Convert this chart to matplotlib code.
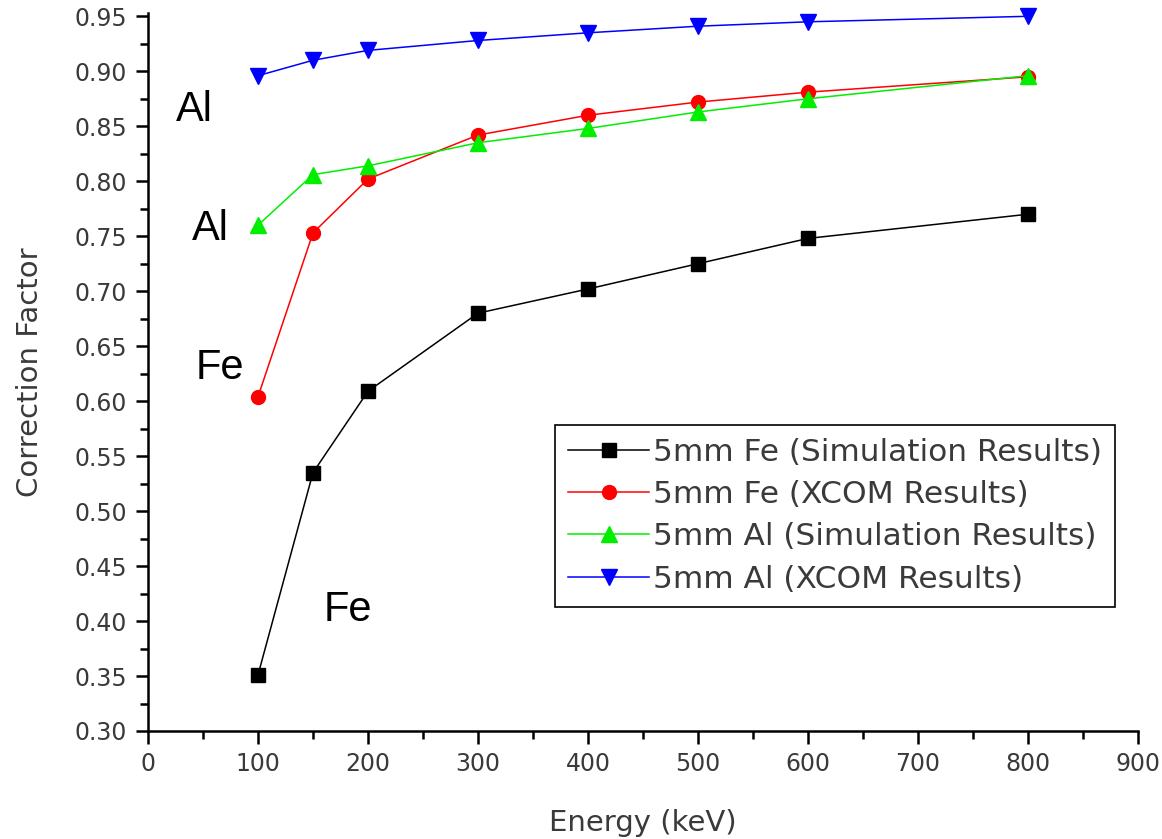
import numpy as np
import matplotlib.pyplot as plt

plt.rcParams['font.family'] = ['DejaVu Sans']

energy = [100, 150, 200, 300, 400, 500, 600, 800]
fe_sim = [0.351, 0.535, 0.609, 0.680, 0.702, 0.725, 0.748, 0.770]
fe_xcom = [0.604, 0.753, 0.802, 0.842, 0.860, 0.872, 0.881, 0.895]
al_sim = [0.760, 0.806, 0.814, 0.835, 0.848, 0.863, 0.875, 0.896]
al_xcom = [0.896, 0.910, 0.919, 0.928, 0.935, 0.941, 0.945, 0.950]

labels = ['5mm Fe (Simulation Results)', '5mm Fe (XCOM Results)',
          '5mm Al (Simulation Results)', '5mm Al (XCOM Results)']

fig = plt.figure(figsize=(11.62, 8.39), dpi=100)
ax = fig.add_axes([148/1162, 1-731/839, 990/1162, 718/839])

ax.plot(energy, fe_sim, color='black', marker='s', ms=10, lw=1.1, label=labels[0], clip_on=False)
ax.plot(energy, fe_xcom, color='red', marker='o', ms=10, lw=1.1, label=labels[1], clip_on=False)
ax.plot(energy, al_sim, color='#00ee00', marker='^', ms=12, lw=1.1, label=labels[2], clip_on=False)
ax.plot(energy, al_xcom, color='blue', marker='v', ms=12, lw=1.1, label=labels[3], clip_on=False)

ax.set_xlim(0, 900)
ax.set_ylim(0.30, 0.953)
ax.set_xticks(np.arange(0, 901, 100))
ax.set_xticks(np.arange(0, 901, 50), minor=True)
ax.set_yticks(np.arange(0.30, 0.951, 0.05))
ax.set_yticks(np.arange(0.30, 0.951, 0.025), minor=True)
ax.yaxis.set_major_formatter(plt.FormatStrFormatter('%.2f'))

for s in ['top', 'right']:
    ax.spines[s].set_visible(False)
for s in ['left', 'bottom']:
    ax.spines[s].set_linewidth(1.8)

ax.tick_params(which='major', length=9, width=1.8, labelsize=17, labelcolor='#3a3a3a', pad=6)
ax.tick_params(which='minor', length=6, width=1.8)

ax.set_xlabel('Energy (keV)', fontsize=21, color='#3a3a3a', labelpad=24)
ax.set_ylabel('Correction Factor', fontsize=21, color='#3a3a3a', labelpad=22)

big = dict(fontsize=30, va='center', family='Liberation Sans')
ax.text(25, 0.865, 'Al', **big)
ax.text(40, 0.757, 'Al', **big)
ax.text(43, 0.630, 'Fe', **big)
ax.text(160, 0.410, 'Fe', **big)

leg = ax.legend(loc='upper left', bbox_to_anchor=(555/1162, 1-425/839),
                bbox_transform=fig.transFigure, borderaxespad=0,
                fontsize=22.5, fancybox=False, edgecolor='black', framealpha=1,
                handlelength=2.6, handletextpad=0.12, labelspacing=0.42,
                borderpad=0.42)
leg.get_frame().set_linewidth(1.2)
for t in leg.get_texts():
    t.set_color('#3a3a3a')

fig.savefig('out.png', dpi=100)
